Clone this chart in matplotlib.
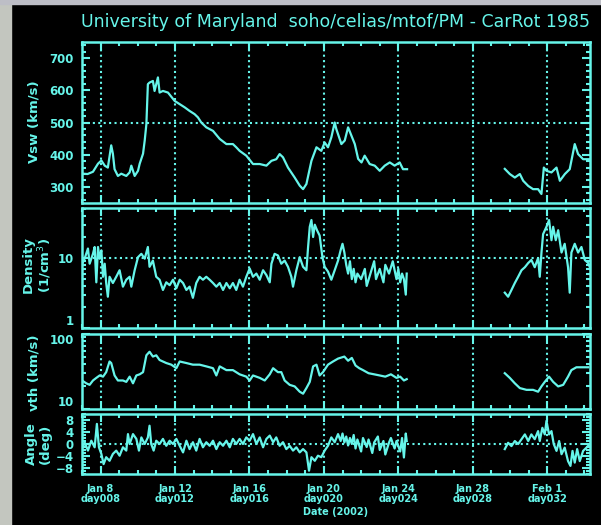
#!/usr/bin/env python3
# -*- coding: utf-8 -*-

import matplotlib
matplotlib.use('Agg')
import matplotlib.pyplot as plt
from matplotlib.ticker import MultipleLocator, FixedLocator, NullFormatter, FuncFormatter, LogLocator
from matplotlib.patches import Rectangle

#%% Data (day of year 2002)

vsw_day1 = [7.0, 7.3, 7.59, 7.86, 8.04, 8.22, 8.39, 8.57, 8.66, 8.75, 8.93, 9.11, 9.38, 9.56, 9.65,
            9.83, 10.01, 10.10, 10.28, 10.37, 10.46, 10.54, 10.63, 10.81, 10.90, 11.08, 11.17, 11.35,
            11.62, 11.98, 12.25, 12.52, 12.78, 13.05, 13.23, 13.41, 13.68, 14.04, 14.40, 14.76, 15.11,
            15.29, 15.47, 15.83, 16.19, 16.55, 16.91, 17.18, 17.44, 17.62, 17.80, 18.07, 18.43, 18.70,
            18.88, 19.06, 19.33, 19.60, 19.86, 20.04, 20.22, 20.40, 20.58, 20.67, 20.94, 21.12, 21.30,
            21.48, 21.66, 21.84, 22.02, 22.19, 22.46, 22.73, 23.00, 23.27, 23.54, 23.80, 24.07, 24.25, 24.47]
vsw1 = [341, 340, 347, 372, 382, 366, 360, 429, 403, 355, 334, 341, 334, 345, 366,
        334, 350, 372, 403, 444, 495, 619, 624, 629, 598, 640, 593, 598,
        593, 567, 557, 547, 536, 526, 516, 500, 485, 474, 449, 433, 433,
        423, 412, 397, 371, 371, 366, 381, 386, 402, 392, 360, 329, 304,
        293, 309, 381, 423, 412, 438, 423, 454, 500, 479, 433, 444, 485,
        459, 433, 387, 376, 397, 371, 366, 350, 366, 376, 366, 376, 355, 355]
vsw_day2 = [29.72, 29.99, 30.26, 30.53, 30.71, 30.98, 31.24, 31.51, 31.69, 31.82, 31.96,
            32.23, 32.50, 32.68, 32.95, 33.21, 33.30, 33.48, 33.66, 33.93, 34.20, 34.3]
vsw2 = [356, 340, 329, 340, 319, 303, 293, 293, 278, 360, 350,
        345, 360, 319, 340, 355, 381, 433, 402, 386, 386, 386]

den_day1 = [7.0, 7.14, 7.32, 7.41, 7.59, 7.68, 7.77, 7.86, 7.95, 8.04, 8.13, 8.22, 8.30, 8.39, 8.48,
            8.66, 8.84, 9.02, 9.20, 9.38, 9.56, 9.65, 9.83, 10.01, 10.19, 10.37, 10.54, 10.63, 10.81,
            10.99, 11.17, 11.35, 11.53, 11.71, 11.89, 12.07, 12.25, 12.43, 12.61, 12.78, 12.96, 13.14,
            13.32, 13.50, 13.68, 13.86, 14.04, 14.22, 14.40, 14.58, 14.76, 14.94, 15.11, 15.29, 15.47,
            15.65, 15.83, 16.01, 16.19, 16.37, 16.55, 16.73, 16.91, 17.09, 17.18, 17.35, 17.53, 17.71,
            17.89, 18.07, 18.25, 18.34, 18.52, 18.70, 18.88, 19.06, 19.15, 19.24, 19.33, 19.42, 19.51,
            19.63, 19.77, 19.92, 20.04, 20.22, 20.40, 20.58, 20.76,
            20.9, 21.0, 21.1, 21.2, 21.3, 21.4, 21.5, 21.6, 21.7, 21.8, 22.0, 22.2, 22.3, 22.5,
            22.7, 22.8, 23.0, 23.2, 23.3, 23.5, 23.7, 23.9, 24.0, 24.1, 24.2, 24.3, 24.4, 24.45]
den1 = [8.2, 9.8, 13.7, 8.3, 11.5, 14.4, 4.5, 14.4, 9.8, 12.9, 5.4, 8.3, 4.4, 2.8, 5.4,
        4.4, 5.4, 6.7, 3.9, 4.9, 5.4, 3.9, 6.7, 10.3, 11.5, 9.8, 14.4, 7.5, 9.2,
        5.4, 4.9, 3.5, 4.5, 4.1, 4.9, 3.7, 4.9, 4.4, 3.5, 3.9, 2.7, 4.4,
        5.4, 4.9, 5.4, 4.9, 4.4, 3.9, 4.4, 3.5, 4.4, 3.7, 4.4, 3.5, 4.9,
        3.9, 5.4, 7.1, 5.4, 6.0, 4.9, 6.7, 5.7, 4.5, 8.3, 11.5, 10.9, 8.3,
        9.2, 7.5, 5.4, 3.9, 6.7, 10.3, 7.5, 6.7, 14.4, 28, 35, 20, 30,
        25, 21, 10.3, 7.5, 6.4, 4.9, 6.7, 9.2,
        13, 16, 12, 8, 6, 9, 5, 7, 4.5, 6, 5, 7, 4, 6,
        9, 5, 7, 4.5, 8, 6, 9, 5, 7, 4.5, 6, 5, 3, 6]
den_day2 = [29.72, 29.90, 30.08, 30.26, 30.44, 30.62, 30.80, 30.98, 31.15, 31.33, 31.51, 31.60,
            31.69, 31.78, 31.96, 32.10, 32.23, 32.32, 32.46, 32.59, 32.77, 32.94, 33.12, 33.21,
            33.30, 33.48, 33.66, 33.84, 34.02, 34.20, 34.29]
den2 = [3.2, 2.8, 3.5, 4.4, 5.4, 6.7, 7.4, 8.5, 9.4, 7.4, 10, 5.4,
        11.8, 22, 28, 35, 18, 28, 18, 25, 12, 16, 7.4, 3.2,
        12, 16, 12, 14.4, 9.4, 8.5, 7.4]

vth_day1 = [7.0, 7.23, 7.41, 7.59, 7.77, 7.95, 8.13, 8.30, 8.48, 8.57, 8.75, 8.93, 9.20, 9.38, 9.56,
            9.74, 9.92, 10.10, 10.28, 10.46, 10.63, 10.81, 10.99, 11.17, 11.53, 11.80, 12.07, 12.25,
            12.61, 12.96, 13.32, 13.68, 14.04, 14.22, 14.40, 14.76, 15.11, 15.47, 15.83, 16.01, 16.19,
            16.55, 16.82, 17.09, 17.27, 17.53, 17.71, 17.89, 18.16, 18.43, 18.70, 18.88, 19.06, 19.24,
            19.42, 19.60, 19.77, 19.95, 20.22, 20.49, 20.76,
            21.1, 21.3, 21.5, 21.7, 21.9, 22.1, 22.4, 22.7, 23.0, 23.3, 23.6, 23.9, 24.1, 24.3, 24.45]
vth1 = [24, 22, 21, 24, 26, 28, 27, 31, 43, 41, 28, 24, 24, 23, 27,
        22, 28, 29, 31, 52, 58, 50, 52, 45, 41, 39, 35, 43,
        41, 39, 39, 37, 35, 28, 37, 33, 33, 29, 27, 24, 28,
        26, 24, 29, 35, 31, 31, 24, 21, 20, 17, 16, 19, 23,
        37, 39, 28, 31, 39, 43, 47,
        50, 44, 48, 38, 35, 33, 30, 29, 28, 27, 29, 26, 27, 24, 25]
vth_day2 = [29.72, 29.99, 30.26, 30.53, 30.89, 31.24, 31.51, 31.69, 31.87, 32.10, 32.32, 32.59,
            32.86, 33.12, 33.30, 33.57, 33.93, 34.20]
vth2 = [30, 26, 22, 19, 18, 18, 17, 20, 23, 27, 23, 20, 21, 27, 33, 36, 36, 36]

ang_day1 = [7.0, 7.14, 7.32, 7.50, 7.68, 7.80, 7.91, 8.04, 8.16, 8.30, 8.48, 8.66, 8.84, 9.02, 9.20,
            9.38, 9.47, 9.56, 9.74, 9.92, 10.06, 10.19, 10.37, 10.54, 10.63, 10.72, 10.85, 10.99,
            11.17, 11.35, 11.53, 11.71, 11.89, 12.07, 12.25, 12.43, 12.61, 12.78, 12.96, 13.14, 13.32,
            13.50, 13.68, 13.86, 14.04, 14.22, 14.40, 14.58, 14.76, 14.94, 15.11, 15.29, 15.47, 15.65,
            15.83, 16.01, 16.19, 16.37, 16.55, 16.73, 16.91, 17.09, 17.27, 17.44, 17.62, 17.80, 17.98,
            18.16, 18.34, 18.52, 18.70, 18.88, 19.06, 19.20, 19.33, 19.51, 19.68, 19.86, 20.04, 20.22,
            20.40, 20.58, 20.76,
            20.9, 21.0, 21.1, 21.2, 21.3, 21.4, 21.5, 21.6, 21.7, 21.8, 22.0, 22.1, 22.3, 22.4, 22.6,
            22.7, 22.9, 23.0, 23.2, 23.3, 23.5, 23.6, 23.8, 23.9, 24.1, 24.2, 24.3, 24.4, 24.45]
ang1 = [-1.7, 0.6, -2.2, 1.1, -1.1, 6.7, -1.1, -3.3, -6.7, -4.4, -5.6, -3.3, -2.2, -3.9, -1.1,
        -2.2, 3.3, 0, 3.3, 1.7, -2.2, 2.2, 0, 2.2, 6.1, 0, -2.2, 1.1,
        0, 1.7, -0.6, 1.1, 0, 1.7, -0.6, -2.8, 1.1, -1.7, 0.6, -2.2, 1.7,
        -1.1, 0.6, -0.6, 1.1, -1.7, 0.6, -0.6, 1.1, -1.1, 1.7, 0, 1.7, 0,
        2.2, 1.1, 3.3, 0, 2.2, -1.1, 1.7, 2.8, 0.6, 2.2, -0.6, 0.6, -1.7,
        -0.6, -2.2, -1.1, -2.8, -1.7, -2.8, -8.9, -4.4, -5.6, -3.9, -4.4, -2.2, -0.6,
        2.2, 0.6, 3.3,
        1.0, 3.5, 0.5, 2.5, -0.5, 2.0, 0, 3.0, -1.5, 1.5, -2.5, 2.0, -1.0, 1.5, -3.0,
        0.5, 2.5, -2.0, 1.0, -3.5, 0.5, 2.0, -1.5, 1.0, -2.5, 2.0, -4.5, 3.5, 1.0]
ang_day2 = [29.72, 29.90, 30.08, 30.26, 30.44, 30.62, 30.80, 30.98, 31.15, 31.33, 31.51, 31.60,
            31.74, 31.87, 31.96, 32.10, 32.23, 32.35, 32.50, 32.64, 32.77, 32.94, 33.12, 33.25,
            33.36, 33.48, 33.61, 33.75, 33.93, 34.11, 34.29]
ang2 = [-1.7, 0.4, -0.7, 1.0, 0, 1.6, 3.2, 1.0, 3.2, 1.6, 4.3, 1.0,
        5.4, 3.2, 7.7, 3.2, 4.3, 0, -2.3, 1.0, -3.4, -1.2, -5.7, -7.3,
        -2.3, -6.2, -1.7, -5.7, -2.3, -1.2, 0]

tick_days = [8, 12, 16, 20, 24, 28, 32]
tick_labels = ['Jan 8\nday008', 'Jan 12\nday012', 'Jan 16\nday016', 'Jan 20\nday020',
               'Jan 24\nday024', 'Jan 28\nday028', 'Feb 1\nday032']

#%% plotting

cyan = '#66f5ea'
dots = (0, (1, 1.6))
plt.rcParams['font.family'] = ['DejaVu Sans']

fig = plt.figure(figsize=(6.01, 5.25), dpi=100, facecolor='black')
fig.patches.append(Rectangle((0, 0), 11/601, 1, transform=fig.transFigure, color='#c3c6bf', zorder=0))
fig.patches.append(Rectangle((0, 1 - 4/525), 1, 4/525, transform=fig.transFigure, color='#bdbec6', zorder=0))

x0, w = 82/601, 508/601
ax1 = fig.add_axes([x0, 322/525, w, 161/525])
ax2 = fig.add_axes([x0, 197/525, w, 120/525])
ax3 = fig.add_axes([x0, 116/525, w, 75/525])
ax4 = fig.add_axes([x0, 51/525, w, 60/525])

for ax in (ax1, ax2, ax3, ax4):
    ax.set_facecolor('black')
    for s in ax.spines.values():
        s.set_color(cyan)
        s.set_linewidth(1.8)
    ax.set_xlim(7.0, 34.3)
    ax.xaxis.set_major_locator(FixedLocator(tick_days))
    ax.xaxis.set_minor_locator(MultipleLocator(1))
    ax.tick_params(which='both', direction='in', top=True, right=True, colors=cyan,
                   labelcolor=cyan, width=1.5, labelsize=8.5, pad=6)
    ax.tick_params(which='major', length=6)
    ax.tick_params(which='minor', length=3)
    for d in tick_days:
        ax.axvline(d, color=cyan, lw=1.5, ls=dots, zorder=1)
    if ax is not ax4:
        ax.tick_params(axis='x', labelbottom=False)

# Vsw
ax1.plot(vsw_day1, vsw1, color=cyan, lw=1.6)
ax1.plot(vsw_day2, vsw2, color=cyan, lw=1.6)
ax1.set_ylim(250, 750)
ax1.yaxis.set_major_locator(MultipleLocator(100))
ax1.yaxis.set_minor_locator(MultipleLocator(20))
ax1.axhline(500, color=cyan, lw=1.5, ls=dots)

# Density
ax2.plot(den_day1, den1, color=cyan, lw=1.6)
ax2.plot(den_day2, den2, color=cyan, lw=1.6)
ax2.set_yscale('log')
ax2.set_ylim(1, 52)
ax2.axhline(10, color=cyan, lw=1.5, ls=dots)

# vth
ax3.plot(vth_day1, vth1, color=cyan, lw=1.6)
ax3.plot(vth_day2, vth2, color=cyan, lw=1.6)
ax3.set_yscale('log')
ax3.set_ylim(10, 100)

for ax in (ax2, ax3):
    ax.yaxis.set_major_locator(FixedLocator([1, 10, 100]))
    ax.yaxis.set_minor_locator(LogLocator(base=10, subs=range(2, 10), numticks=10))
    ax.yaxis.set_major_formatter(FuncFormatter(lambda v, p: '%g' % v))
    ax.yaxis.set_minor_formatter(NullFormatter())

# Angle
ax4.plot(ang_day1, ang1, color=cyan, lw=1.6)
ax4.plot(ang_day2, ang2, color=cyan, lw=1.6)
ax4.set_ylim(-10, 10)
ax4.yaxis.set_major_locator(FixedLocator([-8, -4, 0, 4, 8]))
ax4.yaxis.set_minor_locator(MultipleLocator(1))
ax4.axhline(0, color=cyan, lw=1.5, ls=dots)

ax4.set_xticklabels(tick_labels, fontsize=7, fontweight='bold', linespacing=1.0)
ax4.tick_params(axis='x', pad=7)

# nudge the edge labels apart like the original
fig.canvas.draw()
for ax in (ax1, ax2, ax3, ax4):
    for tk in ax.yaxis.get_major_ticks():
        tk.label1.set_fontweight('bold')
for tk in ax2.yaxis.get_major_ticks():
    if tk.get_loc() == 1:
        tk.label1.set_va('bottom')
for tk in ax3.yaxis.get_major_ticks():
    if tk.get_loc() == 100:
        tk.label1.set_va('top')
    elif tk.get_loc() == 10:
        tk.label1.set_va('bottom')

fig.text(336/601, 1 - 512/525, 'Date (2002)', color=cyan, fontsize=7, fontweight='bold',
         ha='center', va='center')

fig.text(336/601, 1 - 22/525, 'University of Maryland  soho/celias/mtof/PM - CarRot 1985',
         color=cyan, fontsize=12.5, ha='center', va='center')

lab_kw = dict(color=cyan, fontsize=9.5, fontweight='bold', rotation=90, ha='center', va='center',
              linespacing=1.1)
fig.text(34/601, 1 - 122/525, 'Vsw (km/s)', **lab_kw)
fig.text(38/601, 1 - 265/525, 'Density\n(1/cm$^3$)', **lab_kw)
fig.text(34/601, 1 - 373/525, 'vth (km/s)', **lab_kw)
fig.text(38/601, 1 - 444/525, 'Angle\n(deg)', **lab_kw)

fig.savefig('out.png', dpi=100, facecolor='black')
